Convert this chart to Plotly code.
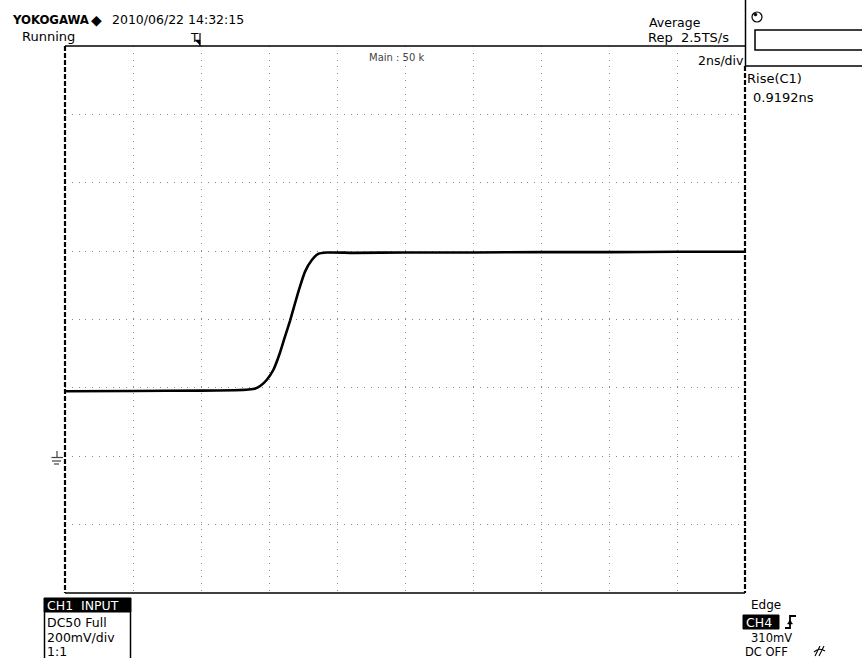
import plotly.graph_objects as go

# ---- data (time in ns, voltage in mV) ----
time_ns = [-4.0, -2.0, 0.0, 1.0, 1.4, 1.6, 1.75, 1.93, 2.13, 2.32, 2.47, 2.62, 2.77,
           2.91, 3.06, 3.26, 3.45, 3.70, 4.5, 6.0, 8.0, 10.0, 12.0, 14.0, 16.0]
volts_mv = [190, 191, 192, 193, 195, 198, 206, 223, 253, 302, 350, 397, 449,
            496, 540, 574, 592, 596, 595, 596, 596, 597, 597, 598, 598]

x_range = [-4, 16]      # 2 ns/div, 10 div
y_range = [-400, 1200]  # 200 mV/div, 8 div

# ---- geometry (pixels) ----
W, H = 862, 658
L, R, T, B = 65, 745, 46, 593


def px(x):
    return (x - L) / (R - L)


def py(y):
    return (B - y) / (B - T)


FONT = "DejaVu Sans, Liberation Sans, sans-serif"

fig = go.Figure()
fig.add_trace(go.Scatter(x=time_ns, y=volts_mv, mode="lines",
                         line=dict(color="black", width=2.6, shape="spline", smoothing=0.6),
                         hoverinfo="skip", showlegend=False))

grid = dict(showgrid=True, gridcolor="#8a8a8a", gridwidth=1, griddash="1px,5.8px",
            zeroline=False, showticklabels=False, ticks="", showline=False)

fig.update_layout(
    width=W, height=H,
    margin=dict(l=L, r=W - R, t=T, b=H - B, pad=0),
    paper_bgcolor="white", plot_bgcolor="white",
    xaxis=dict(range=x_range, dtick=2, tick0=-4, **grid),
    yaxis=dict(range=y_range, dtick=200, tick0=-400, **grid),
    showlegend=False,
)

shapes = []
# frame
shapes.append(dict(type="line", xref="paper", yref="paper", x0=px(L), x1=px(R), y0=py(T), y1=py(T),
                   line=dict(color="black", width=1.5)))
shapes.append(dict(type="line", xref="paper", yref="paper", x0=px(L), x1=px(R), y0=py(B), y1=py(B),
                   line=dict(color="black", width=1.5)))
shapes.append(dict(type="line", xref="paper", yref="paper", x0=px(L), x1=px(L), y0=py(T), y1=py(B),
                   line=dict(color="black", width=2.2, dash="5px,2px")))
shapes.append(dict(type="line", xref="paper", yref="paper", x0=px(R), x1=px(R), y0=py(66), y1=py(B),
                   line=dict(color="black", width=2.2, dash="5px,2px")))
# right panel
shapes.append(dict(type="line", xref="paper", yref="paper", x0=px(R + 0.5), x1=px(R + 0.5), y0=py(0), y1=py(66),
                   line=dict(color="black", width=1.5)))
shapes.append(dict(type="line", xref="paper", yref="paper", x0=px(R), x1=px(W), y0=py(66), y1=py(66),
                   line=dict(color="black", width=1.5)))
shapes.append(dict(type="rect", xref="paper", yref="paper", x0=px(755), x1=px(870), y0=py(30), y1=py(50),
                   line=dict(color="black", width=1.5)))
shapes.append(dict(type="circle", xref="paper", yref="paper", x0=px(752), x1=px(762), y0=py(12), y1=py(22),
                   line=dict(color="black", width=1.2)))
shapes.append(dict(type="circle", xref="paper", yref="paper", x0=px(754), x1=px(757), y0=py(13), y1=py(16),
                   fillcolor="black", line=dict(color="black", width=0.5)))
# trigger position marker
shapes.append(dict(type="line", xref="paper", yref="paper", x0=px(200), x1=px(200), y0=py(33), y1=py(T),
                   line=dict(color="black", width=1.2)))
shapes.append(dict(type="path", xref="paper", yref="paper",
                   path=f"M {px(195)},{py(40)} L {px(200)},{py(40)} L {px(200)},{py(45)} Z",
                   fillcolor="black", line=dict(color="black", width=0.5)))
# ground marker
for (x0, x1, y) in [(51.5, 63, 457.5), (52, 61, 461), (54, 59, 464)]:
    shapes.append(dict(type="line", xref="paper", yref="paper", x0=px(x0), x1=px(x1), y0=py(y), y1=py(y),
                       line=dict(color="#444", width=1.2)))
shapes.append(dict(type="line", xref="paper", yref="paper", x0=px(57), x1=px(57), y0=py(451), y1=py(457.5),
                   line=dict(color="#444", width=1.2)))
# CH1 INPUT box
shapes.append(dict(type="rect", xref="paper", yref="paper", x0=px(44), x1=px(131), y0=py(598), y1=py(612),
                   fillcolor="black", line=dict(color="black", width=1)))
shapes.append(dict(type="line", xref="paper", yref="paper", x0=px(44.5), x1=px(44.5), y0=py(612), y1=py(660),
                   line=dict(color="black", width=1.5)))
shapes.append(dict(type="line", xref="paper", yref="paper", x0=px(130.5), x1=px(130.5), y0=py(612), y1=py(660),
                   line=dict(color="black", width=1.5)))
# CH4 label
shapes.append(dict(type="rect", xref="paper", yref="paper", x0=px(743), x1=px(779), y0=py(615), y1=py(629),
                   fillcolor="black", line=dict(color="black", width=1)))
# rising edge symbol
shapes.append(dict(type="path", xref="paper", yref="paper",
                   path=f"M {px(785)},{py(628)} L {px(790)},{py(628)} L {px(790)},{py(616)} L {px(796)},{py(616)}",
                   line=dict(color="black", width=1.8)))
shapes.append(dict(type="path", xref="paper", yref="paper",
                   path=f"M {px(787.5)},{py(624)} L {px(790)},{py(620)} L {px(792.5)},{py(624)} Z",
                   fillcolor="black", line=dict(color="black", width=0.5)))
# HF-reject style symbol near DC OFF
shapes.append(dict(type="path", xref="paper", yref="paper",
                   path=(f"M {px(815)},{py(656)} L {px(820)},{py(646)} "
                         f"M {px(819)},{py(656)} L {px(824)},{py(646)} "
                         f"M {px(814)},{py(652)} Q {px(819)},{py(647)} {px(825)},{py(651)}"),
                   line=dict(color="black", width=1.1)))
fig.update_layout(shapes=shapes)

ann = []


def text(x, y, s, size=13, anchor="left", color="black", family=FONT, weight="normal"):
    ann.append(dict(xref="paper", yref="paper", x=px(x), y=py(y), text=s, showarrow=False,
                    xanchor=anchor, yanchor="middle",
                    font=dict(size=size, color=color, family=family, weight=weight),
                    borderpad=0))


text(11, 20, "YOKOGAWA", size=13,
     family="Liberation Sans Narrow, DejaVu Sans Condensed, Liberation Sans, sans-serif", weight="bold")
text(90, 20, "◆", size=14)
text(111, 20, "2010/06/22 14:32:15", size=12.5)
text(21, 37, "Running", size=13)
text(189, 38, "T", size=12)
text(648, 22, "Average", size=12.5)
text(647, 38, "Rep  2.5TS/s", size=13)
text(745, 60, "2ns/div", size=12.5, anchor="right")
text(397, 58, "Main : 50 k", size=10, anchor="center", color="#444")
text(746, 78, "Rise(C1)", size=13)
text(752, 97, "0.9192ns", size=13)
text(46, 605, "CH1  INPUT", size=12.5, color="white")
text(46, 622, "DC50 Full", size=12.5)
text(46, 637, "200mV/div", size=12.5)
text(46, 651, "1:1", size=12.5)
text(750, 605, "Edge", size=12)
text(745, 622, "CH4", size=12.5, color="white")
text(750, 638, "310mV", size=11.5)
text(744, 652, "DC OFF", size=11.5)
fig.update_layout(annotations=ann)

fig.write_html("out.html", config={"displayModeBar": False},
               post_script="document.body.style.margin='0';document.body.style.overflow='hidden';")
